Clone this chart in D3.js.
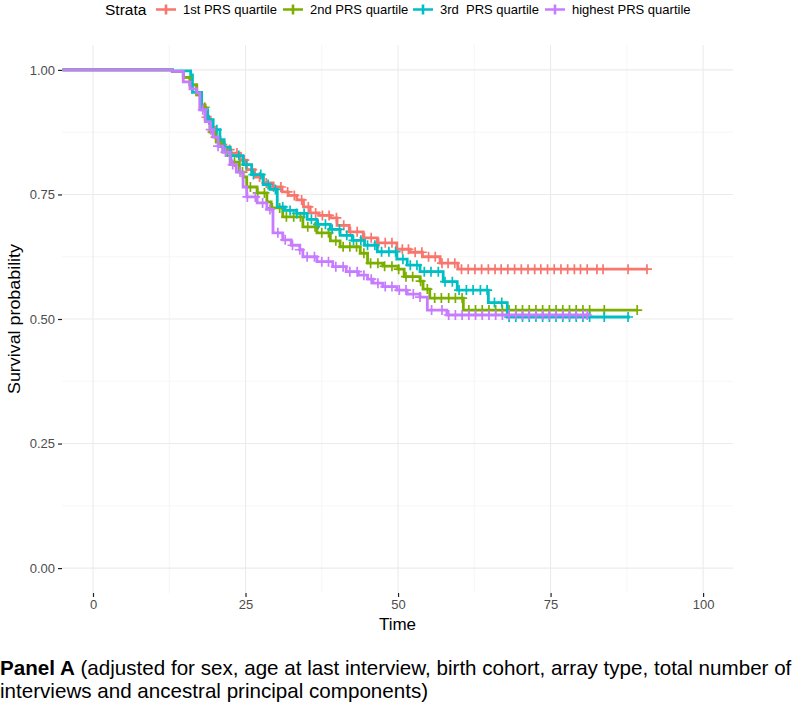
<!DOCTYPE html>
<html>
<head>
<meta charset="utf-8">
<script src="https://cdn.jsdelivr.net/npm/d3@7"></script>
<style>
  body { margin: 0; background: #fff; }
  text { font-family: "Liberation Sans", Arial, sans-serif; }
</style>
</head>
<body>
<div id="chart"></div>
<script>
// strata and their colours
const strata = ["1st PRS quartile", "2nd PRS quartile", "3rd  PRS quartile", "highest PRS quartile"];
const colors = ["#F8766D", "#7CAE00", "#00BFC4", "#C77CFF"];

// step curves [time, survival]
const steps1 = [[-5,1],[13,0.997],[14.8,0.985],[15.9,0.97],[17,0.95],[17.8,0.93],[18.4,0.905],[19.2,0.885],[20,0.865],[20.8,0.85],[21.6,0.84],[22.5,0.833],[24.1,0.819],[25.2,0.80],[26.5,0.785],[27.9,0.773],[29.5,0.765],[31,0.755],[32,0.748],[33.4,0.739],[34.5,0.725],[35.6,0.713],[37,0.708],[38.9,0.703],[40,0.688],[42,0.675],[44.3,0.663],[46.6,0.653],[49.8,0.64],[52,0.634],[54,0.625],[56.9,0.612],[59.8,0.60],[91,0.60]];
const steps2 = [[-5,1],[13,0.997],[14.8,0.985],[15.9,0.97],[17,0.95],[17.8,0.925],[18.4,0.90],[19.2,0.875],[20.2,0.855],[21.3,0.835],[22.5,0.815],[24,0.795],[24.6,0.785],[25.2,0.765],[26.9,0.753],[28.5,0.735],[29.2,0.723],[31.1,0.705],[34.4,0.685],[36.7,0.673],[38.9,0.657],[40.5,0.645],[43.8,0.632],[45,0.612],[47.5,0.606],[50,0.60],[51,0.585],[53.6,0.576],[54.1,0.56],[55.2,0.542],[60.7,0.518],[89.2,0.518]];
const steps3 = [[-5,1],[13,0.998],[16,0.99],[16.3,0.955],[17.8,0.92],[18.8,0.90],[19.7,0.88],[20.8,0.86],[21.5,0.845],[22.5,0.828],[24.6,0.81],[26,0.79],[27.9,0.77],[29,0.76],[30.2,0.725],[31.5,0.718],[33.4,0.712],[35.1,0.70],[36.7,0.69],[38.9,0.68],[40.5,0.668],[42.5,0.658],[44.5,0.648],[46.6,0.635],[49.8,0.62],[51.5,0.608],[53.6,0.595],[57.4,0.575],[59.7,0.558],[64.8,0.533],[67.9,0.504],[88,0.504]];
const steps4 = [[-5,1],[13,0.997],[14.8,0.976],[15.9,0.962],[17,0.954],[17.5,0.92],[18.4,0.896],[19.2,0.88],[19.7,0.865],[20.5,0.847],[21.3,0.835],[22.5,0.81],[23.5,0.795],[24.6,0.765],[25.2,0.745],[26.9,0.733],[28.5,0.72],[29.5,0.673],[31.1,0.659],[32.5,0.648],[33.9,0.639],[34.4,0.625],[36.7,0.615],[39.3,0.605],[41.5,0.595],[43.5,0.588],[45,0.58],[45.9,0.572],[47.5,0.565],[49.8,0.558],[51.5,0.55],[53.6,0.544],[54.8,0.518],[58,0.508],[81.5,0.508]];

// censoring times
const cens1 = [18.6,20.1,21.2,22.4,23.6,24.8,26.1,27.3,28.4,29.6,30.8,31.9,33.0,34.2,35.3,36.5,37.6,38.7,39.9,41.1,42.2,43.3,44.5,45.6,46.8,47.9,49.0,50.7,51.7,52.8,53.9,55.0,56.1,57.2,58.2,59.3,60.4,61.5,62.6,63.7,64.8,65.9,66.9,68.0,69.1,70.2,71.3,72.4,73.4,74.5,75.6,76.7,77.8,78.9,79.9,81.0,82.6,83.6,87.7,90.8];
const cens2 = [18.3,19.6,20.9,22.0,23.2,24.5,25.8,27.0,28.1,29.4,30.6,31.7,32.9,34.0,35.2,36.4,37.5,38.6,39.8,41.0,42.1,43.2,44.4,45.5,46.7,47.8,49.0,50.1,51.3,52.4,53.7,54.8,56.0,57.1,58.3,59.4,60.5,61.6,62.7,63.8,64.9,66.0,67.1,68.2,69.3,70.4,71.5,72.6,73.7,74.8,75.9,77.0,78.1,79.2,80.3,81.4,83.8,89.2];
const cens3 = [19.0,20.3,21.5,22.7,23.9,25.1,26.3,27.5,28.7,29.9,31.1,32.3,33.4,34.6,35.8,36.9,38.1,39.2,40.4,41.6,42.7,43.9,45.0,46.2,47.3,48.5,49.6,50.8,52.0,53.1,54.3,55.4,56.6,57.7,58.9,60.0,61.2,62.3,63.5,64.6,65.8,67.0,68.2,69.3,70.4,71.5,72.6,73.7,74.8,75.9,77.0,78.1,79.2,80.3,81.4,83.8,87.7];
const cens4 = [18.0,19.3,20.5,21.7,22.9,24.1,25.3,26.6,27.8,29.0,30.3,31.5,32.7,33.9,35.1,36.3,37.5,38.6,39.8,41.0,42.1,43.3,44.4,45.6,46.7,47.9,49.0,50.2,51.3,52.5,53.6,55.5,57.2,58.3,59.4,60.5,61.6,62.7,63.8,64.9,66.0,67.1,68.2,69.3,70.4,71.5,72.6,73.7,74.8,75.9,77.0,78.1,79.2,80.3,81.0];

const xTicks = [0, 25, 50, 75, 100];
const yTicks = [0, 0.25, 0.5, 0.75, 1];

const series = [
  { name: strata[0], color: colors[0], steps: steps1, cens: cens1 },
  { name: strata[1], color: colors[1], steps: steps2, cens: cens2 },
  { name: strata[2], color: colors[2], steps: steps3, cens: cens3 },
  { name: strata[3], color: colors[3], steps: steps4, cens: cens4 }
];

const width = 800, height = 712;
const margin = {top: 45, right: 67, bottom: 119, left: 62};

const svg = d3.select("#chart").append("svg")
  .attr("width", width)
  .attr("height", height);

const x = d3.scaleLinear().domain([-5.08, 104.9]).range([margin.left, width - margin.right]);
const y = d3.scaleLinear().domain([-0.05, 1.05]).range([height - margin.bottom, margin.top]);

// grid
const grid = svg.append("g");
const xMinor = [12.5, 37.5, 62.5, 87.5];
const yMinor = [0.125, 0.375, 0.625, 0.875];
grid.selectAll(".xminor").data(xMinor).enter().append("line")
  .attr("x1", d => x(d)).attr("x2", d => x(d))
  .attr("y1", y.range()[0]).attr("y2", y.range()[1])
  .attr("stroke", "#f0f0f0").attr("stroke-width", 0.6);
grid.selectAll(".yminor").data(yMinor).enter().append("line")
  .attr("y1", d => y(d)).attr("y2", d => y(d))
  .attr("x1", x.range()[0]).attr("x2", x.range()[1])
  .attr("stroke", "#f0f0f0").attr("stroke-width", 0.6);
grid.selectAll(".xmajor").data(xTicks).enter().append("line")
  .attr("x1", d => x(d)).attr("x2", d => x(d))
  .attr("y1", y.range()[0]).attr("y2", y.range()[1])
  .attr("stroke", "#ebebeb").attr("stroke-width", 1.1);
grid.selectAll(".ymajor").data(yTicks).enter().append("line")
  .attr("y1", d => y(d)).attr("y2", d => y(d))
  .attr("x1", x.range()[0]).attr("x2", x.range()[1])
  .attr("stroke", "#ebebeb").attr("stroke-width", 1.1);

// axes
const xAxis = svg.append("g")
  .attr("transform", `translate(0,${y.range()[0]})`)
  .call(d3.axisBottom(x).tickValues(xTicks).tickSize(4).tickPadding(3).tickFormat(d3.format("d")));
const yAxis = svg.append("g")
  .attr("transform", `translate(${x.range()[0]},0)`)
  .call(d3.axisLeft(y).tickValues(yTicks).tickSize(4).tickPadding(3).tickFormat(d3.format(".2f")));
[xAxis, yAxis].forEach(a => {
  a.select(".domain").remove();
  a.selectAll(".tick line").attr("stroke", "#222").attr("stroke-width", 1.2);
  a.selectAll(".tick text").attr("fill", "#4d4d4d").style("font-size", "13px")
    .style("font-family", '"Liberation Sans", Arial, sans-serif');
});

svg.append("text")
  .attr("x", (x.range()[0] + x.range()[1]) / 2)
  .attr("y", 630)
  .attr("text-anchor", "middle")
  .style("font-size", "17px")
  .text("Time");

svg.append("text")
  .attr("transform", `translate(20,${y(0.5)}) rotate(-90)`)
  .attr("text-anchor", "middle")
  .attr("textLength", 150)
  .attr("lengthAdjust", "spacingAndGlyphs")
  .style("font-size", "17px")
  .text("Survival probability");

// curves
const line = d3.line()
  .x(d => x(d[0]))
  .y(d => y(d[1]))
  .curve(d3.curveStepAfter);

const bis = d3.bisector(d => d[0]).right;
function survAt(steps, t) {
  const i = bis(steps, t) - 1;
  return steps[Math.max(0, i)][1];
}

series.forEach(s => {
  const g = svg.append("g");
  g.append("path")
    .datum(s.steps)
    .attr("d", line)
    .attr("fill", "none")
    .attr("stroke", s.color)
    .attr("stroke-width", 2.8);
  g.selectAll(".cens").data(s.cens).enter().append("path")
    .attr("d", t => {
      const cx = x(t), cy = y(survAt(s.steps, t));
      return `M${cx - 5},${cy}H${cx + 5}M${cx},${cy - 5}V${cy + 5}`;
    })
    .attr("stroke", s.color)
    .attr("stroke-width", 1.7)
    .attr("fill", "none");
});

// legend
const legend = svg.append("g");
legend.append("text")
  .attr("x", 105).attr("y", 15)
  .style("font-size", "15.5px")
  .text("Strata");
const keyX = [156, 283, 413, 545];
series.forEach((s, i) => {
  const kx = keyX[i], ky = 9.5;
  legend.append("path")
    .attr("d", `M${kx},${ky}H${kx + 20}M${kx + 10},${ky - 5}V${ky + 5}`)
    .attr("stroke", s.color)
    .attr("stroke-width", 2.6);
  legend.append("text")
    .attr("x", kx + 27).attr("y", 14)
    .style("font-size", "13px")
    .style("white-space", "pre")
    .text(s.name);
});

// caption
const cap = svg.append("text")
  .attr("x", 0).attr("y", 675)
  .style("font-size", "20.6px");
cap.append("tspan").style("font-weight", "bold").text("Panel A");
cap.append("tspan").text(" (adjusted for sex, age at last interview, birth cohort, array type, total number of");
svg.append("text")
  .attr("x", 0).attr("y", 698)
  .style("font-size", "20.6px")
  .text("interviews and ancestral principal components)");
</script>
</body>
</html>
